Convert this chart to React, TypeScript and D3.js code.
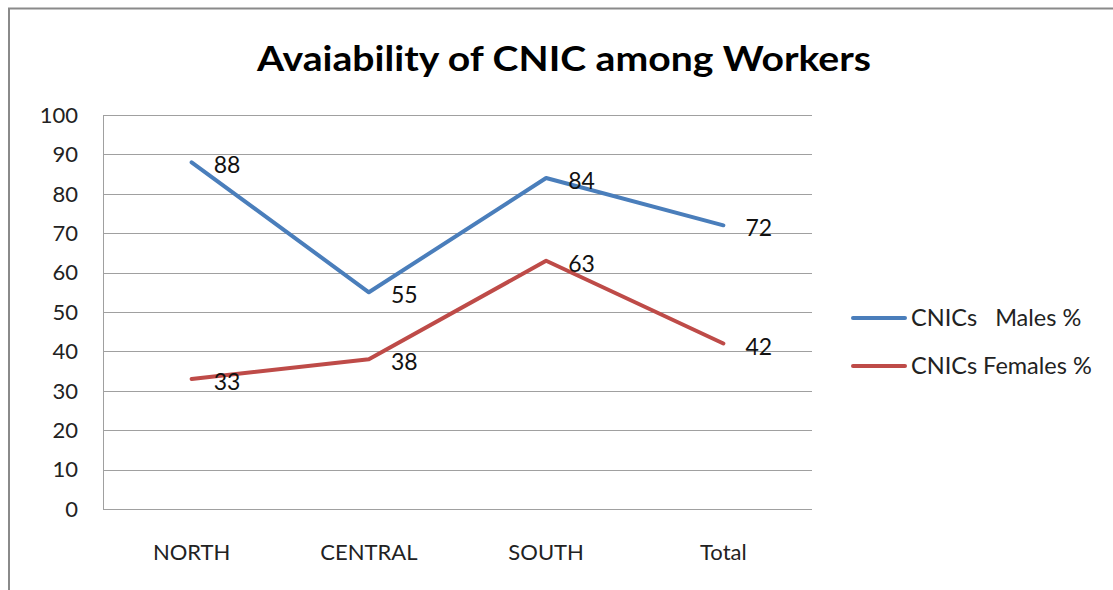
import React from "react";
import * as d3 from "d3";

const categories = ["NORTH", "CENTRAL", "SOUTH", "Total"];
const malesPct = [88, 55, 84, 72];
const femalesPct = [33, 38, 63, 42];
const yTicks = [0, 10, 20, 30, 40, 50, 60, 70, 80, 90, 100];
const seriesNames = ["CNICs   Males %", "CNICs Females %"];
const seriesColors = ["#4a7ebb", "#be4b48"];
const title = "Avaiability of CNIC among Workers";

const W = 1113;
const H = 590;
const FONT = "Lato, 'Open Sans', sans-serif";

export default function App() {
  const plot = { left: 103, right: 812, top: 115, bottom: 509 };
  const x = d3.scaleBand<string>().domain(categories).range([plot.left, plot.right]);
  const cx = (c: string) => (x(c) as number) + x.bandwidth() / 2;
  const y = d3.scaleLinear().domain([0, 100]).range([plot.bottom, plot.top]);
  const line = d3
    .line<number>()
    .x((_, i) => cx(categories[i]))
    .y((v) => y(v));
  const series = [malesPct, femalesPct];

  return (
    <div style={{ position: "fixed", left: 0, top: 0, width: W, height: H, background: "#fff" }}>
      <svg width={W} height={H} style={{ display: "block", fontFamily: FONT }}>
        <rect x={0} y={0} width={W} height={H} fill="#fff" />
        {/* outer chart frame */}
        <path d={`M9,${H + 5} L9,8.5 L${W + 5},8.5`} fill="none" stroke="#8a8a8a" strokeWidth={2} />
        <text
          x={564}
          y={71}
          textAnchor="middle"
          fontSize={34}
          fontWeight={700}
          fill="#000"
          textLength={614}
          lengthAdjust="spacingAndGlyphs"
        >
          {title}
        </text>
        {/* gridlines */}
        {yTicks.map((t) => (
          <line
            key={t}
            x1={plot.left}
            x2={plot.right}
            y1={Math.round(y(t)) + 0.5}
            y2={Math.round(y(t)) + 0.5}
            stroke="#a0a0a0"
            strokeWidth={1}
          />
        ))}
        <line x1={plot.left + 0.5} x2={plot.left + 0.5} y1={plot.top} y2={plot.bottom + 1} stroke="#a0a0a0" />
        {/* y tick labels */}
        {yTicks.map((t) => (
          <text key={t} x={78} y={y(t)} dy="0.35em" textAnchor="end" fontSize={22} fill="#222">
            {t}
          </text>
        ))}
        {/* x labels */}
        {categories.map((c) => (
          <text key={c} x={cx(c)} y={552} dy="0.35em" textAnchor="middle" fontSize={22} fill="#222">
            {c}
          </text>
        ))}
        {/* lines */}
        {series.map((s, si) => (
          <path
            key={si}
            d={line(s) as string}
            fill="none"
            stroke={seriesColors[si]}
            strokeWidth={4}
            strokeLinecap="round"
            strokeLinejoin="round"
          />
        ))}
        {/* data labels */}
        {series.map((s, si) =>
          s.map((v, i) => (
            <text
              key={`${si}-${i}`}
              x={cx(categories[i]) + 22}
              y={y(v) + 3}
              dy="0.35em"
              fontSize={23}
              fill="#111"
            >
              {v}
            </text>
          ))
        )}
        {/* legend */}
        {seriesNames.map((n, i) => (
          <g key={n}>
            <line
              x1={853}
              x2={905}
              y1={318 + i * 48}
              y2={318 + i * 48}
              stroke={seriesColors[i]}
              strokeWidth={4}
              strokeLinecap="round"
            />
            <text x={911} y={318 + i * 48} dy="0.35em" fontSize={23.5} fill="#222" style={{ whiteSpace: "pre" }}>
              {n}
            </text>
          </g>
        ))}
      </svg>
    </div>
  );
}
